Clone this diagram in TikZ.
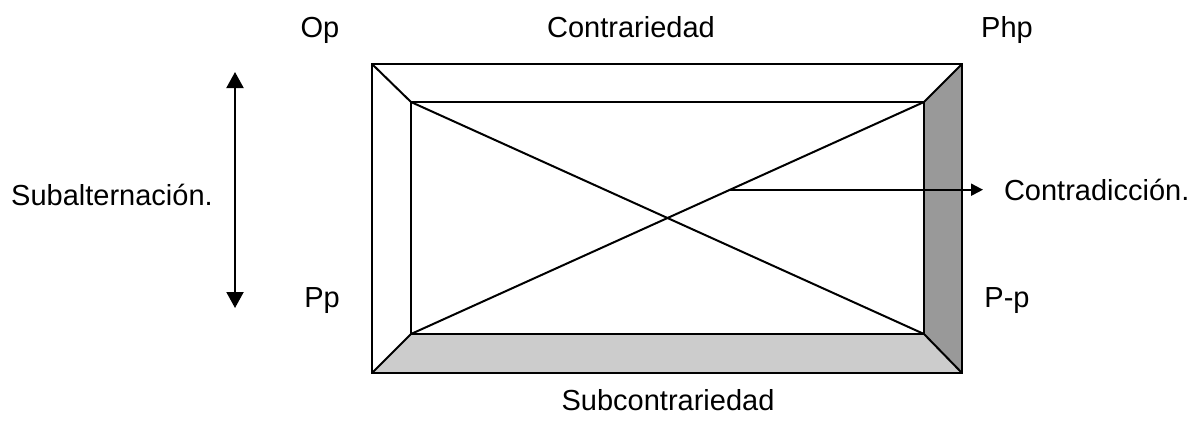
\documentclass[tikz,border=0pt]{standalone}
\usepackage{fontspec}
\setmainfont{Liberation Sans}
\usetikzlibrary{arrows.meta,positioning,calc}

\begin{document}
\begin{tikzpicture}[x=0.5pt, y=-0.5pt, line width=1pt,
    txt/.style={inner sep=0pt, anchor=base, font=\fontsize{14.5}{17}\selectfont}]
    \useasboundingbox (0,0) rectangle (1197,420);

    % corners of the square
    \coordinate (otl) at (372,64);
    \coordinate (otr) at (962,64);
    \coordinate (obl) at (372,373);
    \coordinate (obr) at (962,373);
    \coordinate (itl) at (411,102);
    \coordinate (itr) at (924,102);
    \coordinate (ibl) at (411,334);
    \coordinate (ibr) at (924,334);

    \fill[black!40] (otr) -- (obr) -- (ibr) -- (itr) -- cycle;
    \fill[black!20] (obl) -- (obr) -- (ibr) -- (ibl) -- cycle;
    \draw (otl) rectangle (obr);
    \draw (itl) rectangle (ibr);
    \draw (otl) -- (itl);
    \draw (otr) -- (itr);
    \draw (obl) -- (ibl);
    \draw (obr) -- (ibr);
    \draw (itl) -- (ibr);
    \draw (ibl) -- (itr);

    % labels
    \node[txt] (op) at (320,37) {Op};
    \node[txt] (contrariedad) at (631,37) {Contrariedad};
    \node[txt] (php) at (1007,37) {Php};
    \node[txt] (pp) at (322,307) {Pp};
    \node[txt] (pmp) at (1007,307) {P-p};
    \node[txt] (subcontrariedad) at (668,410) {Subcontrariedad};
    \node[txt] (subalternacion) at (112,205) {Subalternación.};
    \node[txt, anchor=base west] (contradiccion) at (1003,200) {Contradicción.};

    % arrows
    \coordinate (src) at ($(ibl)!0.622!(itr)$);
    \draw[-{Triangle[length=6pt, width=6pt]}, shorten >=10pt] (src) -- (src -| contradiccion.west);
    \coordinate (vtop) at (235,72);
    \coordinate (vbot) at (235,308);
    \draw[{Triangle[length=8pt, width=8.5pt]}-{Triangle[length=8pt, width=8.5pt]}] (vtop) -- (vbot);
\end{tikzpicture}
\end{document}
